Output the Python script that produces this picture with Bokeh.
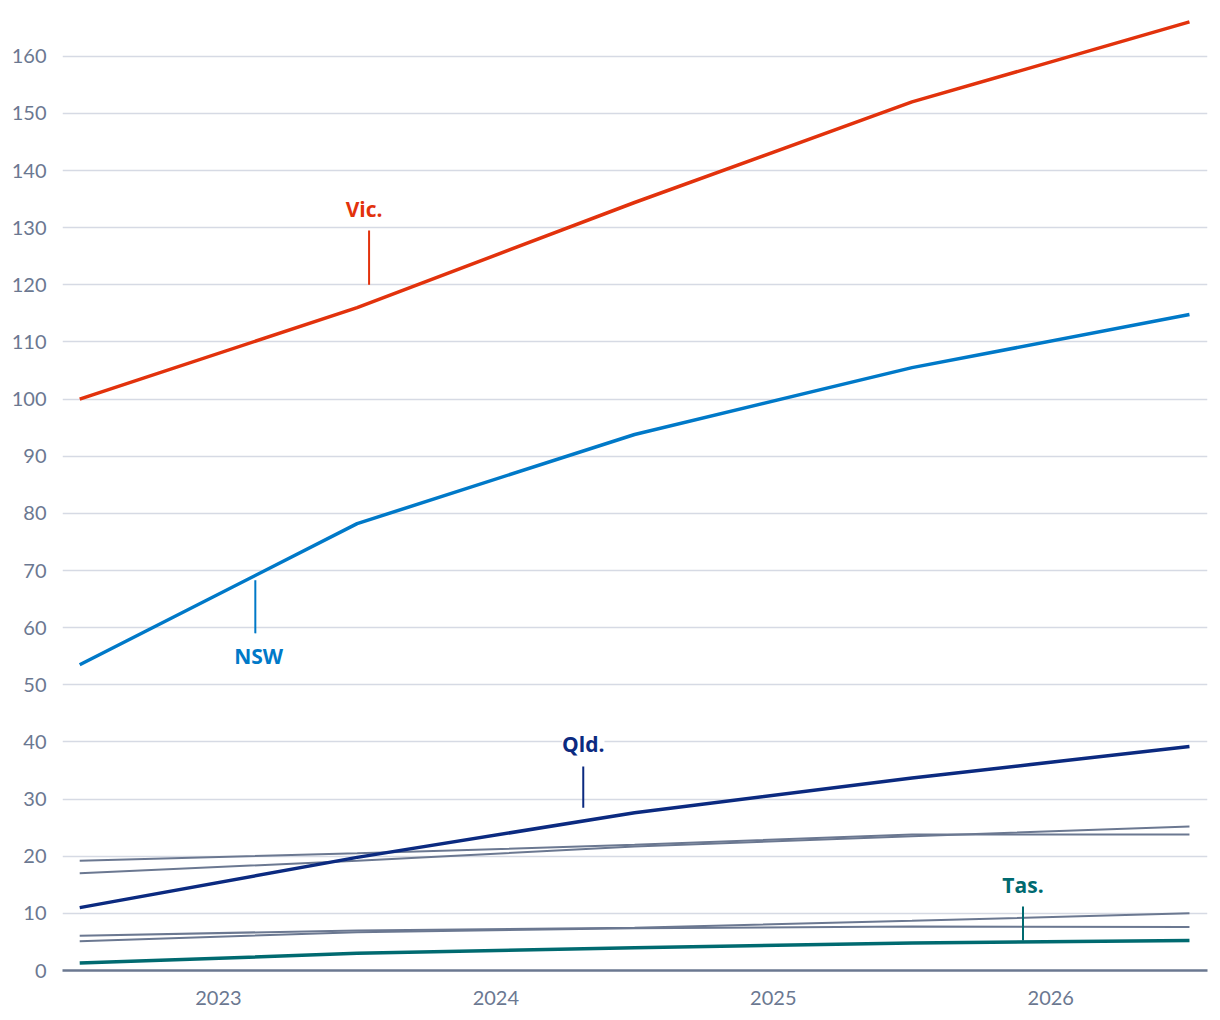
from bokeh.plotting import figure
from bokeh.models import Range1d, FixedTicker, Label
from bokeh.embed import file_html
from bokeh.resources import INLINE

# ---- data ----
years = [2022.5, 2023.5, 2024.5, 2025.5, 2026.5]
vic = [100.0, 116.0, 134.4, 152.0, 166.0]
nsw = [53.5, 78.2, 93.8, 105.5, 114.8]
qld = [11.0, 19.8, 27.6, 33.7, 39.2]
tas = [1.3, 3.0, 4.0, 4.8, 5.25]
other_a = [19.2, 20.5, 22.0, 23.8, 23.8]
other_b = [17.0, 19.2, 21.7, 23.5, 25.2]
other_c = [6.1, 7.0, 7.5, 8.7, 10.0]
other_d = [5.1, 6.7, 7.4, 7.7, 7.6]
x_ticks = [2023, 2024, 2025, 2026]
y_ticks = [0, 10, 20, 30, 40, 50, 60, 70, 80, 90, 100, 110, 120, 130, 140, 150, 160]

# label annotations: name, label x, label y, leader x, leader y0, leader y1
labels = ["Vic.", "NSW", "Qld.", "Tas."]
label_x = [2023.525, 2023.145, 2024.315, 2025.9]
label_y = [133.3, 55.0, 39.6, 15.0]
leader_x = [2023.543, 2023.133, 2024.315, 2025.9]
leader_y0 = [120.0, 59.0, 28.5, 5.25]
leader_y1 = [129.5, 68.3, 35.7, 11.2]

RED = "#E2320C"
BLUE = "#0079C8"
NAVY = "#0B2A80"
TEAL = "#006A70"
GRAY = "#6B7891"
label_colors = [RED, BLUE, NAVY, TEAL]

p = figure(width=1215, height=1015, output_backend="svg", toolbar_location=None,
           x_range=Range1d(2022.438, 2026.565), y_range=Range1d(0, 168),
           min_border_left=62, min_border_right=8, min_border_top=10, min_border_bottom=45)
p.outline_line_color = None
p.background_fill_color = "white"
p.border_fill_color = "white"

p.xgrid.grid_line_color = None
p.ygrid.grid_line_color = "#D6DAE4"
p.ygrid.grid_line_width = 1.5
p.yaxis.ticker = FixedTicker(ticks=y_ticks)
p.xaxis.ticker = FixedTicker(ticks=x_ticks)

p.yaxis.axis_line_color = None
p.yaxis.major_tick_line_color = None
p.yaxis.minor_tick_line_color = None
p.yaxis.major_label_standoff = 10
p.xaxis.axis_line_color = GRAY
p.xaxis.axis_line_width = 2.5
p.xaxis.major_tick_line_color = None
p.xaxis.minor_tick_line_color = None
p.xaxis.major_label_standoff = 14
for ax in (p.xaxis, p.yaxis):
    ax.major_label_text_font = "Lato"
    ax.major_label_text_font_size = "20px"
    ax.major_label_text_color = GRAY

for ys in (other_a, other_b, other_c, other_d):
    p.line(years, ys, line_color=GRAY, line_width=2)

p.line(years, tas, line_color=TEAL, line_width=3.5)
p.line(years, qld, line_color=NAVY, line_width=3.5)
p.line(years, nsw, line_color=BLUE, line_width=3.5)
p.line(years, vic, line_color=RED, line_width=3.5)

p.segment(leader_x, leader_y0, leader_x, leader_y1, line_color=label_colors, line_width=2)

for t, lx, ly, c in zip(labels, label_x, label_y, label_colors):
    p.add_layout(Label(x=lx, y=ly, text=t, text_color=c, text_font="Open Sans",
                       text_font_style="bold", text_font_size="21px",
                       text_align="center", text_baseline="middle",
                       background_fill_color="white", background_fill_alpha=1.0))

open("out.html", "w").write(file_html(p, INLINE))
